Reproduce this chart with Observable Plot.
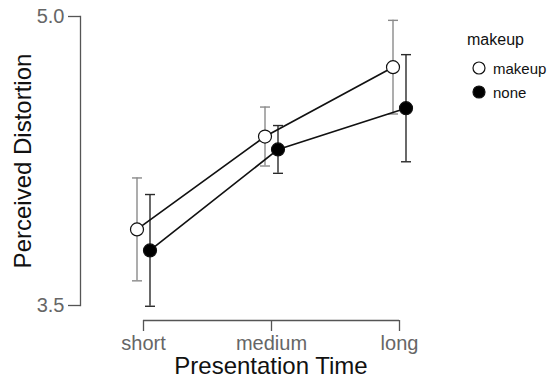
<!DOCTYPE html>
<html>
<head>
<meta charset="utf-8">
<script src="https://cdn.jsdelivr.net/npm/d3@7"></script>
<script src="https://cdn.jsdelivr.net/npm/@observablehq/plot@0.6"></script>
<style>
  html, body { margin: 0; padding: 0; background: #fff; }
  #wrap { position: relative; width: 552px; height: 378px; font-family: "Liberation Sans", Arial, sans-serif; }
  #legend { position: absolute; left: 467px; top: 30px; color: #111; }
  #legend .title { font-size: 16px; line-height: 20px; }
  #legend .items { margin-top: 6px; }
  #legend .item { display: flex; align-items: center; height: 24px; font-size: 15px; margin-left: 4px; }
  #legend svg { margin-right: 6px; display: block; }
</style>
</head>
<body>
<div id="wrap"></div>
<script>
const times = ["short", "medium", "long"];
const groups = ["makeup", "none"];
const makeupMean = [3.895, 4.377, 4.737];
const makeupErr  = [0.267, 0.153, 0.243];
const noneMean   = [3.786, 4.310, 4.524];
const noneErr    = [0.290, 0.124, 0.278];
const yTicks = [3.5, 5.0];
const yDomain = [3.5, 5.0];
const xTitle = "Presentation Time";
const yTitle = "Perceived Distortion";
const legendTitle = "makeup";

const build = (means, errs, g) => times.map((t, i) => ({time: t, group: g, mean: means[i], lo: means[i] - errs[i], hi: means[i] + errs[i]}));
const makeupData = build(makeupMean, makeupErr, "makeup");
const noneData = build(noneMean, noneErr, "none");

const capSymbol = { draw(context, size) { const r = Math.sqrt(size / Math.PI); context.moveTo(-r, 0); context.lineTo(r, 0); } };

const series = [
  {data: makeupData, dx: -6.5, fill: "white", bar: "#8a8a8a"},
  {data: noneData, dx: 6.5, fill: "black", bar: "#2a2a2a"}
];

const marks = [];
for (const s of series) {
  marks.push(Plot.ruleX(s.data, {x: "time", y1: "lo", y2: "hi", dx: s.dx, stroke: s.bar, strokeWidth: 1.4}));
  marks.push(Plot.dot(s.data, {x: "time", y: "lo", dx: s.dx, symbol: capSymbol, r: 5, stroke: s.bar, fill: "none", strokeWidth: 1.4}));
  marks.push(Plot.dot(s.data, {x: "time", y: "hi", dx: s.dx, symbol: capSymbol, r: 5, stroke: s.bar, fill: "none", strokeWidth: 1.4}));
}
for (const s of series) {
  marks.push(Plot.line(s.data, {x: "time", y: "mean", dx: s.dx, stroke: "#111", strokeWidth: 1.7}));
}
for (const s of series) {
  marks.push(Plot.dot(s.data, {x: "time", y: "mean", dx: s.dx, r: 6.5, fill: s.fill, stroke: "#111", strokeWidth: 1.2}));
}

const chart = Plot.plot({
  width: 552,
  height: 378,
  marginTop: 16,
  marginBottom: 73,
  marginLeft: 80,
  marginRight: 91,
  style: {fontFamily: "'Liberation Sans', Arial, sans-serif", background: "white", overflow: "visible"},
  x: {type: "point", domain: times, padding: 0.4825, axis: null},
  y: {domain: yDomain, axis: null},
  marks: [
    Plot.frame({anchor: "left", stroke: "#555", strokeWidth: 1.3}),
    Plot.axisY(yTicks, {tickSize: 12, tickPadding: 4, tickFormat: d3.format(".1f"), fontSize: 20, stroke: "#555", fill: "#666", strokeWidth: 1.3, label: null}),
    Plot.ruleY([yDomain[0]], {x1: () => times[0], x2: () => times[times.length - 1], dy: 15, stroke: "#555", strokeWidth: 1.3}),
    Plot.axisX(times, {dy: 15, tickSize: 11, tickPadding: 4, fontSize: 20, stroke: "#555", fill: "#666", strokeWidth: 1.3, label: null}),
    Plot.text([xTitle], {frameAnchor: "bottom", dy: 61, fontSize: 24, fill: "#111", lineAnchor: "middle", textAnchor: "middle"}),
    Plot.text([yTitle], {frameAnchor: "left", dx: -57, rotate: -90, fontSize: 24, fill: "#111", lineAnchor: "middle", textAnchor: "middle"}),
    ...marks
  ]
});

const wrap = document.getElementById("wrap");
wrap.appendChild(chart);

const legend = document.createElement("div");
legend.id = "legend";
const title = document.createElement("div");
title.className = "title";
title.textContent = legendTitle;
legend.appendChild(title);
const items = document.createElement("div");
items.className = "items";
const fills = {makeup: "white", none: "black"};
for (const g of groups) {
  const item = document.createElement("div");
  item.className = "item";
  item.innerHTML = `<svg width="16" height="16"><circle cx="8" cy="8" r="6" fill="${fills[g]}" stroke="#111" stroke-width="1.2"/></svg>`;
  const span = document.createElement("span");
  span.textContent = g;
  item.appendChild(span);
  items.appendChild(item);
}
legend.appendChild(items);
wrap.appendChild(legend);
</script>
</body>
</html>
